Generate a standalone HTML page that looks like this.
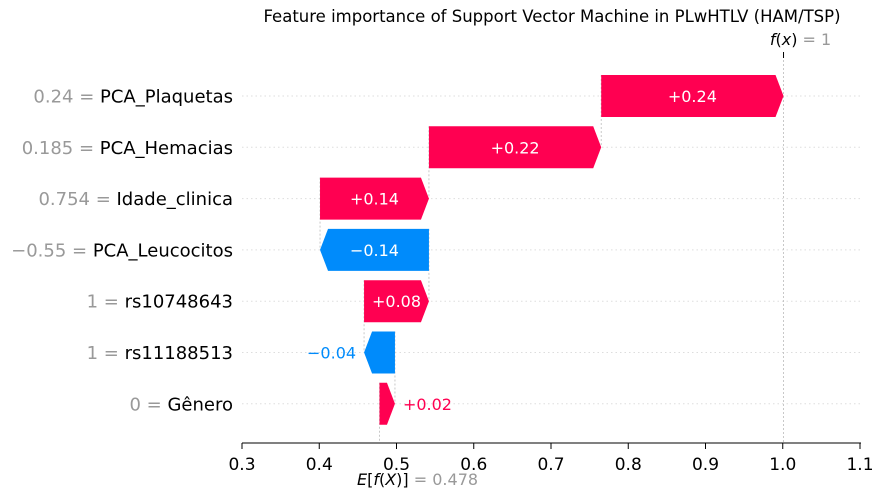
<!DOCTYPE html>
<html><head><meta charset="utf-8"><style>
body{margin:0;background:#fff;font-family:"DejaVu Sans","Liberation Sans",sans-serif}
svg text{font-family:"DejaVu Sans","Liberation Sans",sans-serif}
</style></head><body>
<svg id="c" width="884" height="498" xmlns="http://www.w3.org/2000/svg">
<text x="552" y="22" font-size="16.5" text-anchor="middle">Feature importance of Support Vector Machine in PLwHTLV (HAM/TSP)</text>
</svg>
<script>
const features=["PCA_Plaquetas","PCA_Hemacias","Idade_clinica","PCA_Leucocitos","rs10748643","rs11188513","Gênero"];
const featureValues=["0.24","0.185","0.754","\u22120.55","1","1","0"];
const shapValues=[0.236,0.223,0.141,-0.141,0.084,-0.04,0.02];
const baseValue=0.478;
const ticks=[0.3,0.4,0.5,0.6,0.7,0.8,0.9,1.0,1.1];
const tickLabels=["0.3","0.4","0.5","0.6","0.7","0.8","0.9","1.0","1.1"];

const svg=document.getElementById('c');
const NS="http://www.w3.org/2000/svg";
const X=v=>242+(v-0.3)/0.8*618;
const rowY=i=>96+i*51.3;
function mk(t,a,p){const e=document.createElementNS(NS,t);for(const k in a)e.setAttribute(k,a[k]);(p||svg).appendChild(e);return e;}
const fmt=v=>(v>=0?"+":"\u2212")+Math.abs(v).toFixed(2);

features.forEach((f,i)=>{
  const g=mk('line',{x1:242,x2:860,y1:rowY(i),y2:rowY(i),stroke:'#ddd','stroke-dasharray':'1.5,3','stroke-width':1});
  
  
  const t=mk('text',{x:233,y:rowY(i)+6.5,'font-size':18,'text-anchor':'end'});
  
  
  const s1=mk('tspan',{fill:'#999'},t);s1.textContent=featureValues[i]+" = ";
  const s2=mk('tspan',{fill:'#000'},t);s2.textContent=f;
});
let cum=baseValue;
const starts=[],ends=[];
for(let i=features.length-1;i>=0;i--){starts[i]=cum;cum+=shapValues[i];ends[i]=cum;}
const fx=cum;
for(let i=features.length-1;i>=0;i--){
  const yb=(i===features.length-1)?443:rowY(i)+51;
  const c=mk('line',{x1:X(starts[i]),x2:X(starts[i]),y1:rowY(i)-21,y2:yb,stroke:'#bbb','stroke-dasharray':'2,2','stroke-width':0.8});
  
  
}
mk('line',{x1:X(fx),x2:X(fx),y1:60,y2:443,stroke:'#bbb','stroke-dasharray':'2,2','stroke-width':0.8});
mk('line',{x1:X(fx),x2:X(fx),y1:52,y2:58,stroke:'#000','stroke-width':1});
shapValues.forEach((v,i)=>{
  const x0=X(starts[i]),x1=X(ends[i]),y=rowY(i),h=21;
  const len=Math.abs(x1-x0);const hl=Math.min(8,len*0.55);const d=v>=0?1:-1;
  const pts=[[x0,y-h],[x1-d*hl,y-h],[x1,y],[x1-d*hl,y+h],[x0,y+h]].map(p=>p.join(',')).join(' ');
  const col=v>=0?'#ff0051':'#008bfb';
  const p=mk('polygon',{points:pts,fill:col});
  
  
  const t=mk('text',{'font-size':16});
  
  
  t.textContent=fmt(Math.round(v*100)/100);
  if(len>55){t.setAttribute('x',(x0+x1)/2);t.setAttribute('y',y+6);t.setAttribute('text-anchor','middle');t.setAttribute('fill','#fff');}
  else{t.setAttribute('x',x1+d*8);t.setAttribute('y',y+6);t.setAttribute('text-anchor',v>=0?'start':'end');t.setAttribute('fill',col);}
});
const ax=mk('line',{x1:242,x2:861,y1:443,y2:443,stroke:'#000','stroke-width':1});


ticks.forEach((t,i)=>{
  mk('line',{x1:X(t),x2:X(t),y1:443,y2:449,stroke:'#000'});
  const l=mk('text',{x:X(t),y:470,'font-size':17,'text-anchor':'middle'});
  
  
  l.textContent=tickLabels[i];
});
const e=mk('text',{x:X(baseValue)+38,y:485,'font-size':16,'text-anchor':'middle'});


e.innerHTML='<tspan font-style="italic">E</tspan>[<tspan font-style="italic">f</tspan>(<tspan font-style="italic">X</tspan>)] <tspan fill="#999">= '+baseValue.toFixed(3)+'</tspan>';
const f=mk('text',{x:X(fx)+17,y:45,'font-size':16,'text-anchor':'middle'});


f.innerHTML='<tspan font-style="italic">f</tspan>(<tspan font-style="italic">x</tspan>) <tspan fill="#999">= '+Math.round(fx)+'</tspan>';
</script>
</body></html>
